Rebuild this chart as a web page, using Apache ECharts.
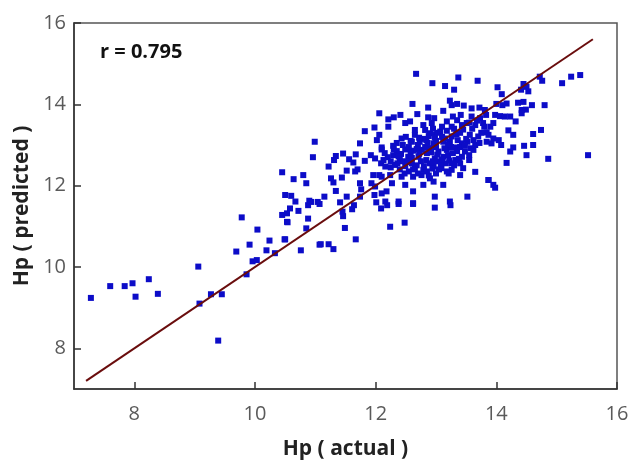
<!DOCTYPE html>
<html>
<head>
<meta charset="utf-8">
<script src="https://cdn.jsdelivr.net/npm/echarts@6/dist/echarts.min.js"></script>
<style>
  html, body { margin: 0; padding: 0; background: #fff; }
  #chart { width: 632px; height: 461px; }
</style>
</head>
<body>
<div id="chart"></div>
<script>
// Hp actual vs predicted scatter

const tickValues = [8, 10, 12, 14, 16];
const corrLabel = 'r = 0.795';

// identity line end points
const fitLine = [[7.2, 7.2], [15.6, 15.6]];

// low end / outliers
const pointsLow = [
  [7.28, 9.24], [7.60, 9.53], [7.84, 9.53], [7.97, 9.60], [8.02, 9.27], [8.24, 9.70], [8.39, 9.34],
  [9.06, 10.01], [9.08, 9.10], [9.27, 9.33], [9.45, 9.33], [9.39, 8.19], [9.86, 9.82],
  [9.69, 10.38], [9.91, 10.55], [9.96, 10.14], [10.03, 10.17], [10.04, 10.92], [10.19, 10.41],
  [10.24, 10.65], [10.33, 10.34], [10.49, 10.68], [10.76, 10.41], [10.85, 10.95], [10.53, 11.11],
  [11.07, 10.55], [9.78, 11.22]
];

// 10.5 .. 12.1 band
const pointsMid = [
  [10.67, 11.61], [10.88, 11.52], [10.93, 11.60], [11.04, 11.60], [11.07, 11.55], [10.58, 11.44],
  [10.45, 11.28], [10.53, 11.32], [10.72, 11.38], [10.54, 11.10], [10.88, 11.19], [11.41, 11.59],
  [11.45, 11.36], [11.46, 11.25], [11.61, 11.42], [11.64, 11.52], [11.49, 10.96], [11.67, 10.68],
  [10.50, 10.68], [11.09, 10.56], [11.22, 10.56], [11.30, 10.44], [12.01, 11.59], [12.09, 11.44],
  [12.19, 11.52], [12.38, 11.55], [12.62, 11.55], [12.24, 10.99], [12.48, 11.09], [12.98, 11.46],
  [13.24, 11.52],
  [12.06, 13.78], [11.82, 13.34], [11.98, 13.43], [12.02, 13.12], [11.74, 13.04], [10.99, 13.08],
  [10.96, 12.70], [11.34, 12.73], [11.46, 12.79], [11.67, 12.77], [11.31, 12.63], [11.56, 12.65],
  [11.63, 12.57], [11.82, 12.61], [11.92, 12.75], [11.99, 12.67], [12.10, 12.89], [12.09, 12.55],
  [11.22, 12.47], [11.52, 12.37], [11.66, 12.35], [11.70, 12.40], [10.45, 12.33], [10.64, 12.16],
  [10.80, 12.26], [10.85, 12.06], [11.26, 12.18], [11.30, 12.08], [11.44, 12.20], [11.34, 11.87],
  [11.74, 12.06], [11.76, 11.91], [11.96, 12.26], [11.93, 12.06], [11.99, 11.98], [12.10, 12.22],
  [10.50, 11.77], [10.60, 11.75], [10.90, 11.63], [11.15, 11.73], [11.52, 11.73], [11.74, 11.73],
  [11.98, 11.77], [12.10, 11.81]
];

// dense core 12..14
const pointsCore = [
  [12.67, 14.75], [12.94, 14.52], [13.15, 14.45], [13.37, 14.66], [13.69, 14.58], [13.30, 14.36],
  [12.61, 14.01], [12.87, 13.92], [13.23, 14.09], [13.26, 13.98], [13.35, 14.01], [13.46, 13.97],
  [13.12, 13.84], [13.59, 13.90], [13.72, 13.92], [12.30, 13.68], [12.41, 13.74], [12.21, 13.63],
  [12.69, 13.76], [12.87, 13.68], [12.97, 13.66], [13.28, 13.70], [13.35, 13.61], [13.41, 13.74],
  [13.59, 13.70], [13.73, 13.66], [13.83, 13.74], [12.49, 13.54], [12.57, 13.58], [12.79, 13.49],
  [12.93, 13.54], [13.18, 13.58], [13.26, 13.45], [13.43, 13.49], [13.51, 13.54], [13.65, 13.49],
  [13.78, 13.54], [12.21, 13.45], [12.65, 13.37], [12.82, 13.37], [12.90, 13.29], [12.98, 13.25],
  [13.07, 13.33], [13.15, 13.16], [13.26, 13.21], [13.34, 13.27], [13.56, 13.25], [13.70, 13.21],
  [13.84, 13.31], [12.06, 13.25], [12.43, 13.16], [12.60, 13.08], [12.73, 13.08], [12.84, 13.12],
  [12.96, 13.04], [13.12, 13.08], [13.23, 13.08], [13.43, 13.04], [13.52, 13.08], [13.65, 13.00],
  [12.10, 12.94], [12.29, 12.98], [12.49, 12.89], [12.62, 12.86], [12.76, 12.88], [12.90, 12.92],
  [13.04, 12.84], [13.18, 12.88], [13.34, 12.94], [13.48, 12.84], [13.62, 12.88], [12.29, 12.75],
  [12.40, 12.67], [12.54, 12.71], [12.71, 12.71], [12.84, 12.63], [12.98, 12.67], [13.12, 12.71],
  [13.32, 12.63], [13.43, 12.71], [13.55, 12.63], [12.13, 12.63], [12.16, 12.47], [12.32, 12.51],
  [12.49, 12.48], [12.65, 12.43], [12.79, 12.39], [12.96, 12.47], [13.09, 12.43], [13.26, 12.39],
  [13.45, 12.43], [12.06, 12.26], [12.24, 12.26], [12.43, 12.22], [12.62, 12.22], [12.76, 12.26],
  [12.90, 12.18], [13.21, 12.30], [13.40, 12.26], [13.65, 12.34], [12.27, 12.06], [12.49, 12.02],
  [12.79, 12.02], [12.96, 12.10], [13.12, 12.02], [12.18, 11.86], [12.62, 11.86], [13.87, 12.14],
  [12.16, 11.61], [12.38, 11.61], [12.62, 11.57], [12.98, 11.73], [13.23, 11.61], [13.52, 11.73],
  [12.35, 12.85], [12.55, 12.95], [12.70, 13.00], [12.85, 12.80], [13.00, 12.95], [13.10, 13.20],
  [12.45, 12.60], [12.60, 12.55], [12.75, 12.60], [12.90, 12.55], [13.05, 12.60], [13.20, 12.75],
  [13.35, 12.85], [12.40, 12.40], [12.55, 12.35], [12.70, 12.30], [12.85, 12.35], [13.00, 12.30],
  [13.15, 12.55], [13.30, 12.50], [12.20, 12.70], [12.25, 12.45], [12.50, 13.20], [12.65, 13.25],
  [12.95, 13.40], [13.10, 13.45], [13.40, 13.30], [13.50, 13.15], [13.60, 13.40], [13.75, 13.30],
  [12.80, 13.15], [13.00, 13.10], [12.35, 13.05], [13.40, 12.95], [13.55, 12.75], [13.25, 12.95],
  [12.30, 12.90], [12.42, 12.78], [12.58, 12.82], [12.68, 12.90], [12.82, 12.95], [12.92, 12.82],
  [13.02, 12.76], [13.14, 12.92], [13.28, 12.80], [13.38, 12.66], [12.52, 12.58], [12.68, 12.50],
  [12.80, 12.48], [12.94, 12.42], [13.08, 12.52], [13.22, 12.62], [12.36, 12.55], [12.48, 12.30],
  [12.62, 12.40], [12.88, 12.25], [13.05, 12.40], [13.18, 12.35], [12.58, 13.10], [12.72, 13.18],
  [12.88, 13.22], [13.02, 13.30], [13.18, 13.35], [13.30, 13.40], [13.45, 13.38], [13.55, 13.55],
  [13.68, 13.60], [13.80, 13.45], [13.62, 13.12], [13.72, 13.05], [13.48, 12.98], [13.58, 12.92],
  [12.45, 13.00], [12.25, 12.60], [12.15, 12.80], [12.38, 12.72], [13.36, 13.12], [13.20, 13.02],
  [12.98, 13.18], [12.86, 13.05], [12.72, 12.78], [12.60, 12.68], [13.10, 12.64], [13.25, 12.55],
  [13.40, 12.55], [12.95, 12.60]
];

// upper right 14..15.5
const pointsHigh = [
  [14.02, 14.42], [14.09, 14.25], [14.45, 14.50], [14.50, 14.43], [14.41, 14.36], [14.53, 14.32],
  [14.72, 14.68], [14.76, 14.58], [15.09, 14.52], [15.24, 14.68], [15.39, 14.72], [14.00, 14.01],
  [14.10, 13.98], [14.17, 14.02], [14.36, 14.04], [14.45, 14.06], [14.59, 13.98], [14.80, 13.98],
  [14.42, 13.86], [14.49, 13.87], [13.98, 13.74], [14.06, 13.71], [14.14, 13.70], [14.23, 13.70],
  [14.42, 13.78], [14.32, 13.58], [13.95, 13.54], [13.90, 13.45], [13.81, 13.86], [14.20, 13.36],
  [14.28, 13.25], [14.61, 13.27], [14.74, 13.37], [13.87, 13.25], [13.95, 13.16], [14.04, 13.12],
  [13.84, 13.08], [13.92, 13.04], [14.08, 13.00], [14.28, 12.94], [14.46, 12.98], [14.61, 13.00],
  [14.23, 12.84], [14.50, 12.75], [14.86, 12.66], [15.52, 12.75], [14.17, 12.56], [13.87, 12.14],
  [13.95, 12.02], [13.98, 11.95]
];

const allPoints = pointsLow.concat(pointsMid, pointsCore, pointsHigh);

const chart = echarts.init(document.getElementById('chart'));

const axisCommon = {
  type: 'value',
  min: 7,
  max: 16,
  nameLocation: 'middle',
  nameTextStyle: { fontFamily: 'Open Sans', fontWeight: 'bold', fontSize: 21, color: '#222' },
  axisLine: { show: true, lineStyle: { color: '#333', width: 1.5 } },
  axisTick: { show: true, inside: true, length: 7, customValues: tickValues, lineStyle: { color: '#333', width: 1.5 } },
  axisLabel: { customValues: tickValues, fontFamily: 'Open Sans', fontSize: 20, color: '#5a5a5a' },
  splitLine: { show: false }
};

chart.setOption({
  animation: false,
  backgroundColor: '#fff',
  grid: {
    left: 74, right: 15, top: 23, bottom: 72,
    containLabel: false,
    outerBoundsMode: 'none',
    show: true, borderColor: '#555', borderWidth: 1.5
  },
  xAxis: Object.assign({}, axisCommon, {
    name: 'Hp ( actual )',
    nameGap: 50,
    axisLabel: Object.assign({}, axisCommon.axisLabel, { margin: 15 })
  }),
  yAxis: Object.assign({}, axisCommon, {
    name: 'Hp ( predicted )',
    nameGap: 41,
    axisLabel: Object.assign({}, axisCommon.axisLabel, { margin: 8 })
  }),
  graphic: [{
    type: 'text',
    left: 100,
    top: 42,
    style: { text: corrLabel, fontFamily: 'Open Sans', fontWeight: 'bold', fontSize: 20, fill: '#111' }
  }],
  series: [
    {
      type: 'scatter',
      symbol: 'rect',
      symbolSize: 6,
      itemStyle: { color: '#0c0cc8', opacity: 1 },
      data: allPoints,
      z: 2
    },
    {
      type: 'line',
      data: fitLine,
      symbol: 'none',
      lineStyle: { color: '#6a0d0d', width: 2 },
      z: 3
    }
  ]
});
</script>
</body>
</html>
